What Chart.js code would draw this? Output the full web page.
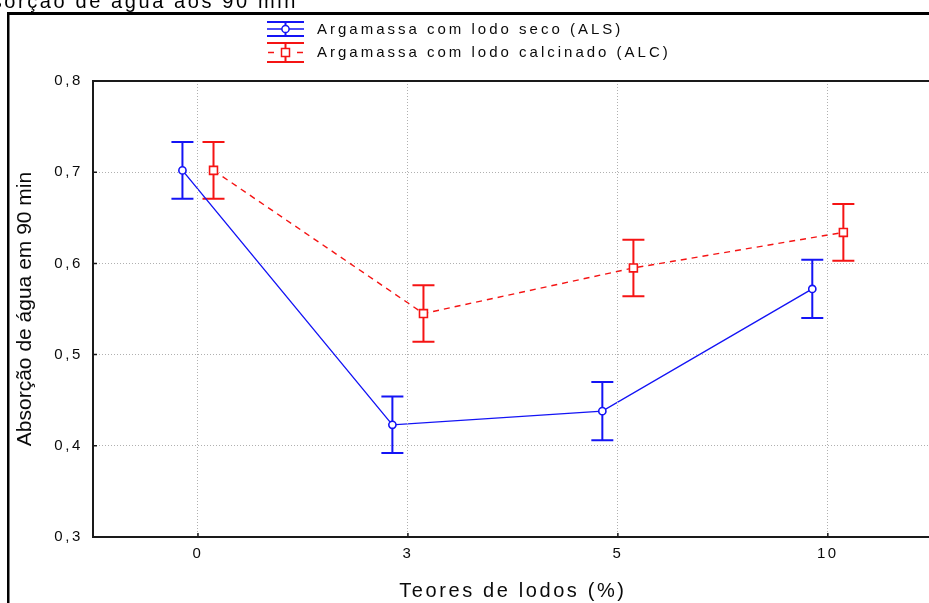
<!DOCTYPE html>
<html>
<head>
<meta charset="utf-8">
<script src="https://cdn.jsdelivr.net/npm/chart.js@4.4.1/dist/chart.umd.min.js"></script>
<style>
  html, body { margin: 0; padding: 0; background: #fff; overflow: hidden; width: 929px; height: 603px; }
  #wrap { position: absolute; left: 0; top: 0; width: 940px; height: 603px; }
  canvas { display: block; width: 940px; height: 603px; max-width: none; }
</style>
</head>
<body>
<!-- the plot box runs past the right edge of the window, so the canvas is a little wider than the page -->
<div id="wrap"><canvas id="c" width="940" height="603" style="width:940px;height:603px"></canvas></div>
<script>
// ---- data ----
const chartTitle = 'Absorção de água aos 90 min';
const doseLabels = ['0', '3', '5', '10'];
const xAxisTitle = 'Teores de lodos (%)';
const yAxisTitle = 'Absorção de água em 90 min';
const yTicks = [0.3, 0.4, 0.5, 0.6, 0.7, 0.8];
const yTickLabels = ['0,3', '0,4', '0,5', '0,6', '0,7', '0,8'];
const seriesNames = ['Argamassa com lodo seco (ALS)', 'Argamassa com lodo calcinado (ALC)'];
const alsMean = [0.702, 0.423, 0.438, 0.572];
const alsErr  = [0.031, 0.031, 0.032, 0.032];
const alcMean = [0.702, 0.545, 0.595, 0.634];
const alcErr  = [0.031, 0.031, 0.031, 0.031];

// ---- style ----
const FONT = '"Liberation Sans", Arial, Helvetica, sans-serif';
const BLUE = '#1414f5';
const RED = '#f51414';
const GRID = '#b0b0b0';
const INK = '#0a0a0a';
const SPACING = '2.6px';           // wide lettering of the horizontal texts
const dodge = [-0.074, 0.074];     // side-by-side shift of the two series, in category units

Chart.defaults.font.family = FONT;

const toPoints = (means, shift) => means.map((y, i) => ({ x: i + shift, y }));

function drawErrorBars(chart) {
  const ctx = chart.ctx;
  const ys = chart.scales.y;
  chart.data.datasets.forEach((ds, di) => {
    const meta = chart.getDatasetMeta(di);
    ctx.save();
    ctx.strokeStyle = ds.borderColor;
    ctx.lineWidth = 2;
    ctx.setLineDash([]);
    meta.data.forEach((pt, i) => {
      const v = ds.data[i].y, e = ds.errors[i];
      const top = ys.getPixelForValue(v + e);
      const bot = ys.getPixelForValue(v - e);
      const x = pt.x;
      ctx.beginPath();
      ctx.moveTo(x, top); ctx.lineTo(x, bot);
      ctx.moveTo(x - 11, top); ctx.lineTo(x + 11, top);
      ctx.moveTo(x - 11, bot); ctx.lineTo(x + 11, bot);
      ctx.stroke();
    });
    ctx.restore();
  });
}

function drawLegend(chart) {
  const ctx = chart.ctx;
  const rows = [
    { yc: 29, half: 7, baseline: 33.5 },
    { yc: 52.5, half: 9.5, baseline: 56.5 }
  ];
  const x0 = 267, x1 = 304, cx = 285.5;
  chart.data.datasets.forEach((ds, i) => {
    const r = rows[i];
    ctx.save();
    ctx.strokeStyle = ds.borderColor;
    ctx.lineWidth = 2;
    ctx.beginPath();
    ctx.moveTo(x0, r.yc - r.half); ctx.lineTo(x1, r.yc - r.half);
    ctx.moveTo(x0, r.yc + r.half); ctx.lineTo(x1, r.yc + r.half);
    ctx.moveTo(cx, r.yc - r.half); ctx.lineTo(cx, r.yc + r.half);
    ctx.stroke();
    ctx.lineWidth = 1.5;
    ctx.beginPath();
    if (ds.borderDash && ds.borderDash.length) {
      ctx.moveTo(x0 + 1, r.yc); ctx.lineTo(x0 + 7, r.yc);
      ctx.moveTo(x1 - 7, r.yc); ctx.lineTo(x1 - 1, r.yc);
    } else {
      ctx.moveTo(x0, r.yc); ctx.lineTo(x1, r.yc);
    }
    ctx.stroke();
    ctx.fillStyle = '#fff';
    ctx.beginPath();
    if (ds.pointStyle === 'rect') {
      ctx.rect(cx - 4, r.yc - 4, 8, 8);
    } else {
      ctx.arc(cx, r.yc, 3.6, 0, Math.PI * 2);
    }
    ctx.fill();
    ctx.stroke();
    ctx.letterSpacing = '3px';
    ctx.font = '15px ' + FONT;
    ctx.fillStyle = INK;
    ctx.textAlign = 'left';
    ctx.textBaseline = 'alphabetic';
    ctx.fillText(ds.label, 317, r.baseline);
    ctx.restore();
  });
}

const decor = {
  id: 'decor',
  beforeDraw(chart) {
    chart.ctx.letterSpacing = '0px';
  },
  beforeDatasetsDraw(chart) {
    drawErrorBars(chart);
    chart.ctx.letterSpacing = SPACING;
  },
  afterDraw(chart) {
    const ctx = chart.ctx;
    const a = chart.chartArea;
    ctx.save();
    // plot box
    ctx.strokeStyle = '#1a1a1a';
    ctx.lineWidth = 2;
    ctx.setLineDash([]);
    ctx.strokeRect(a.left, a.top, a.right - a.left, a.bottom - a.top);
    // short inward tick marks
    ctx.lineWidth = 1.5;
    ctx.beginPath();
    chart.scales.y.ticks.forEach(t => {
      const y = chart.scales.y.getPixelForValue(t.value);
      ctx.moveTo(a.left, y); ctx.lineTo(a.left + 4, y);
    });
    chart.scales.x.ticks.forEach(t => {
      const x = chart.scales.x.getPixelForValue(t.value);
      ctx.moveTo(x, a.bottom); ctx.lineTo(x, a.bottom - 4);
    });
    ctx.stroke();
    // outer frame
    ctx.fillStyle = '#000';
    ctx.fillRect(7, 12, chart.width, 3);
    ctx.fillRect(7, 12, 2.5, chart.height);
    // caption
    ctx.letterSpacing = '2.6px';
    ctx.font = '20px ' + FONT;
    ctx.textAlign = 'left';
    ctx.textBaseline = 'alphabetic';
    ctx.fillText(chartTitle, -38, 7.5);
    ctx.restore();
    drawLegend(chart);
    ctx.letterSpacing = '0px';
  }
};

new Chart(document.getElementById('c'), {
  type: 'line',
  data: {
    datasets: [
      {
        label: seriesNames[0],
        data: toPoints(alsMean, dodge[0]),
        errors: alsErr,
        borderColor: BLUE,
        borderWidth: 1.4,
        pointStyle: 'circle',
        pointRadius: 3.6,
        pointBorderWidth: 1.6,
        pointBackgroundColor: '#fff',
        pointBorderColor: BLUE,
        tension: 0,
        fill: false
      },
      {
        label: seriesNames[1],
        data: toPoints(alcMean, dodge[1]),
        errors: alcErr,
        borderColor: RED,
        borderWidth: 1.4,
        borderDash: [6, 5],
        pointStyle: 'rect',
        pointRadius: 5.6,
        pointBorderWidth: 1.6,
        pointBackgroundColor: '#fff',
        pointBorderColor: RED,
        tension: 0,
        fill: false
      }
    ]
  },
  options: {
    responsive: false,
    animation: false,
    devicePixelRatio: 1,
    layout: { padding: { top: 81, left: 0, right: 6, bottom: 0 } },
    plugins: {
      legend: { display: false },
      title: { display: false },
      tooltip: { enabled: false }
    },
    scales: {
      x: {
        type: 'linear',
        min: -0.5,
        max: 3.5,
        afterBuildTicks: s => { s.ticks = doseLabels.map((_, i) => ({ value: i })); },
        afterFit: s => { s.height = 66; },
        ticks: {
          callback: v => doseLabels[v] ?? '',
          font: { size: 15 },
          color: INK,
          padding: 8,
          maxRotation: 0,
          autoSkip: false,
          z: 1
        },
        grid: { color: GRID, lineWidth: 1, borderDash: [1, 2], drawTicks: false, z: 1 },
        border: { display: false, dash: [1, 2] },
        title: {
          display: true,
          text: xAxisTitle,
          color: INK,
          font: { size: 20 },
          padding: { top: 0, bottom: 0 }
        }
      },
      y: {
        min: 0.3,
        max: 0.8,
        afterBuildTicks: s => { s.ticks = yTicks.map(v => ({ value: v })); },
        afterFit: s => { s.width = 93; },
        ticks: {
          callback: (v, i) => yTickLabels[i],
          font: { size: 15 },
          color: INK,
          padding: 10,
          z: 1
        },
        grid: { color: GRID, lineWidth: 1, borderDash: [1, 2], drawTicks: false },
        border: { display: false, dash: [1, 2] },
        title: {
          display: true,
          text: yAxisTitle,
          color: INK,
          font: { size: 21 },
          padding: { top: 13, bottom: 0 }
        }
      }
    }
  },
  plugins: [decor]
});
</script>
</body>
</html>
